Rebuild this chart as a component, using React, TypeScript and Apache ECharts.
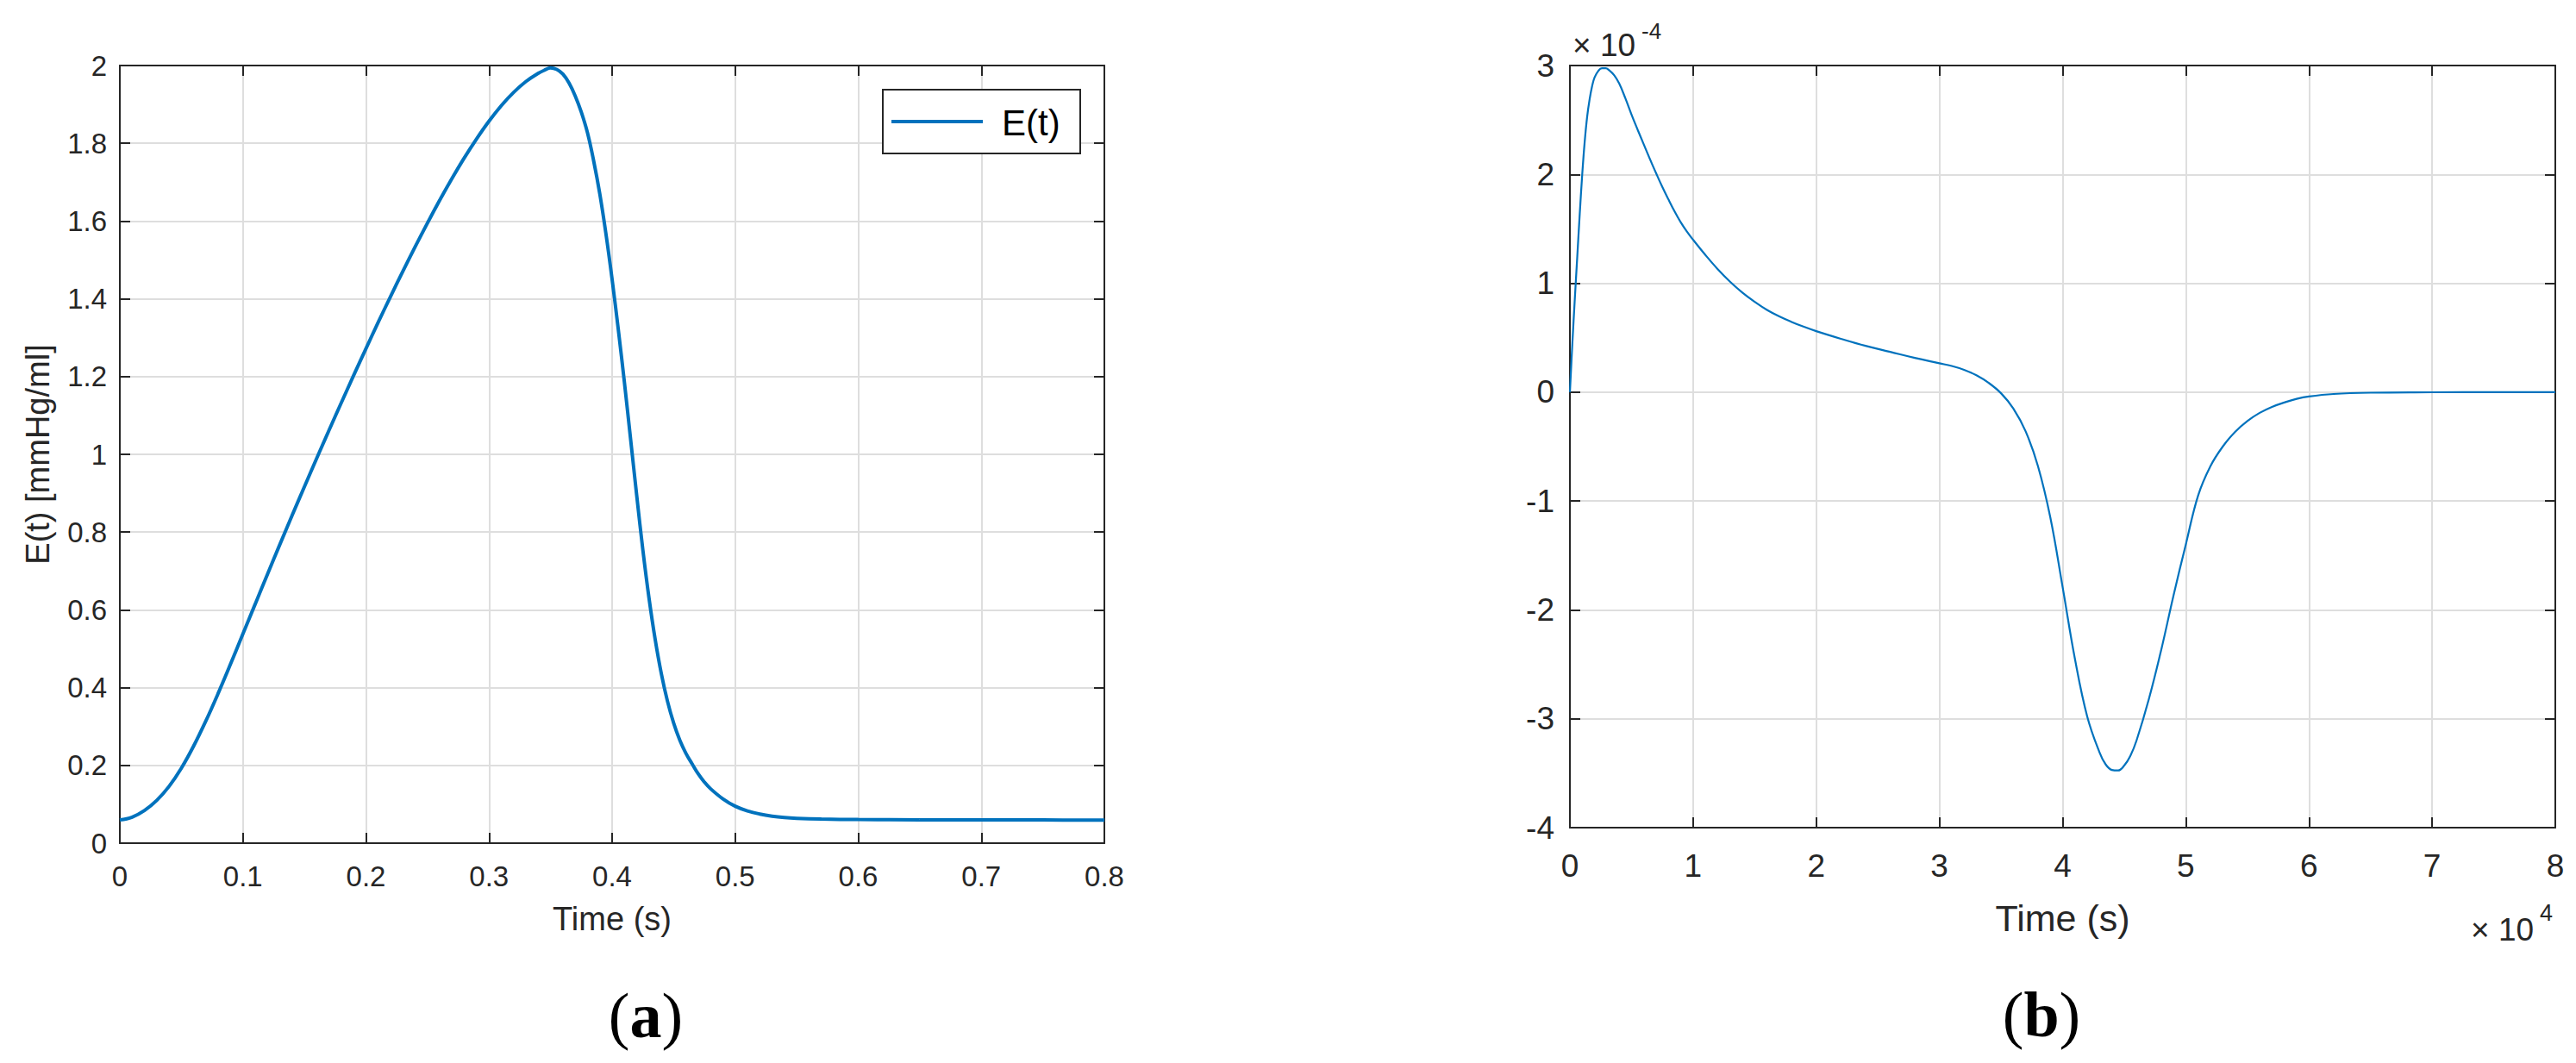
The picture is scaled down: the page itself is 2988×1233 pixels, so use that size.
import React, { useEffect, useRef } from 'react';
import * as echarts from 'echarts';

// (a) Elastance E(t) [mmHg/ml] against time (s)
const timeA = [0, 0.01, 0.02, 0.03, 0.04, 0.05, 0.06, 0.07, 0.08, 0.09, 0.1, 0.11, 0.12, 0.13, 0.14, 0.15, 0.16, 0.17, 0.18, 0.19, 0.2, 0.21, 0.22, 0.23, 0.24, 0.25, 0.26, 0.27, 0.28, 0.29, 0.3, 0.31, 0.32, 0.33, 0.34,
  0.345, 0.35, 0.355, 0.36, 0.365, 0.37, 0.375, 0.38, 0.385, 0.39, 0.395, 0.4, 0.405, 0.41, 0.415, 0.42, 0.425, 0.43, 0.435, 0.44, 0.445, 0.45, 0.455, 0.46, 0.465, 0.47, 0.475, 0.48,
  0.49, 0.5, 0.51, 0.52, 0.53, 0.54, 0.55, 0.57, 0.6, 0.65, 0.7, 0.75, 0.8];
const elastance = [0.06, 0.067, 0.084, 0.11, 0.146, 0.193, 0.25, 0.315, 0.386, 0.461, 0.538, 0.615, 0.692, 0.768, 0.843, 0.917, 0.99, 1.062, 1.133, 1.203, 1.272, 1.34, 1.406, 1.471, 1.534, 1.595, 1.654, 1.71, 1.763, 1.812, 1.857, 1.897, 1.931, 1.959, 1.98,
  1.988, 1.994, 1.99, 1.978, 1.955, 1.922, 1.88, 1.827, 1.755, 1.67, 1.567, 1.45, 1.322, 1.185, 1.04, 0.894, 0.754, 0.63, 0.524, 0.436, 0.365, 0.309, 0.265, 0.231, 0.204, 0.178, 0.157, 0.14,
  0.114, 0.095, 0.083, 0.075, 0.0695, 0.066, 0.064, 0.062, 0.0607, 0.0601, 0.0598, 0.0596, 0.0595];

// (b) time in units of 10^4 s, response in units of 10^-4
const timeB = [0, 0.02, 0.04, 0.06, 0.08, 0.1, 0.12, 0.14, 0.16, 0.18, 0.2, 0.23, 0.26, 0.29, 0.32, 0.36, 0.4, 0.45, 0.5, 0.55, 0.6, 0.65, 0.7, 0.75, 0.8, 0.85, 0.9, 0.95, 1.0, 1.1, 1.2, 1.3, 1.4, 1.5, 1.6, 1.7, 1.8, 1.9, 2.0, 2.2, 2.4, 2.6, 2.8, 3.0, 3.1, 3.2, 3.3, 3.4, 3.5, 3.6, 3.7, 3.8, 3.9, 4.0, 4.1, 4.2, 4.3, 4.35, 4.4, 4.45, 4.5, 4.55, 4.6, 4.7, 4.8, 4.9, 5.0, 5.1, 5.2, 5.3, 5.4, 5.5, 5.6, 5.7, 5.8, 5.9, 6.0, 6.2, 6.5, 7.0, 7.5, 8.0];
const valueB = [0, 0.45, 0.86, 1.25, 1.64, 2.0, 2.3, 2.53, 2.69, 2.81, 2.89, 2.95, 2.975, 2.975, 2.955, 2.91, 2.835, 2.7, 2.55, 2.41, 2.275, 2.14, 2.01, 1.885, 1.77, 1.66, 1.56, 1.475, 1.4, 1.26, 1.13, 1.015, 0.915, 0.83, 0.755, 0.695, 0.645, 0.6, 0.56, 0.49, 0.425, 0.37, 0.315, 0.265, 0.24, 0.205, 0.155, 0.085, -0.01, -0.15, -0.36, -0.68, -1.15, -1.79, -2.45, -2.98, -3.31, -3.42, -3.47, -3.475, -3.43, -3.34, -3.2, -2.82, -2.37, -1.87, -1.4, -0.95, -0.68, -0.5, -0.365, -0.265, -0.19, -0.135, -0.095, -0.062, -0.04, -0.017, -0.005, -0.001, 0, 0];

const seriesNameA = 'E(t)';
const xTitle = 'Time (s)';
const yTitleA = 'E(t) [mmHg/ml]';

const FONT = '"Liberation Sans", Arial, Helvetica, sans-serif';
const SERIF = '"Liberation Serif", "Times New Roman", serif';
const INK = '#262626';
const GRID = '#dedede';
const BLUE = '#0072BD';

function boxAxes(gridIndex: number, min: number, max: number, interval: number, kind: 'x' | 'y', fontSize: number, margin: number, name?: string, nameGap?: number, nameSize?: number) {
  const common = {
    gridIndex,
    type: 'value',
    min,
    max,
    interval,
    axisLine: { show: true, onZero: false, lineStyle: { color: INK, width: 2 } },
    axisTick: { show: true, inside: true, length: 12, lineStyle: { color: INK, width: 2 } },
  };
  const main: any = {
    ...common,
    position: kind === 'x' ? 'bottom' : 'left',
    axisLabel: { show: true, color: INK, fontSize, fontFamily: FONT, margin },
    splitLine: { show: true, lineStyle: { color: GRID, width: 2 } },
  };
  if (name) {
    main.name = name;
    main.nameLocation = 'middle';
    main.nameGap = nameGap;
    main.nameTextStyle = { color: INK, fontSize: nameSize, fontFamily: FONT };
    if (kind === 'y') main.nameRotate = 90;
  }
  const opposite: any = {
    ...common,
    position: kind === 'x' ? 'top' : 'right',
    axisLabel: { show: false },
    splitLine: { show: false },
  };
  return [main, opposite];
}

export default function App() {
  const ref = useRef<HTMLDivElement>(null);
  useEffect(() => {
    if (!ref.current) return;
    const chart = echarts.init(ref.current, null, { renderer: 'svg' });
    const xA = boxAxes(0, 0, 0.8, 0.1, 'x', 33, 22, xTitle, 69, 38);
    const yA = boxAxes(0, 0, 2, 0.2, 'y', 33, 15, yTitleA, 76, 38);
    const xB = boxAxes(1, 0, 8, 1, 'x', 37, 26, xTitle, 83, 43);
    const yB = boxAxes(1, -4, 3, 1, 'y', 37, 18);
    const option: any = {
      animation: false,
      backgroundColor: '#ffffff',
      grid: [
        { left: 139, top: 76, width: 1142, height: 902, outerBoundsMode: 'none', containLabel: false },
        { left: 1821, top: 76, width: 1143, height: 884, outerBoundsMode: 'none', containLabel: false },
      ],
      xAxis: [...xA, ...xB],
      yAxis: [...yA, ...yB],
      series: [
        {
          name: seriesNameA,
          type: 'line',
          xAxisIndex: 0,
          yAxisIndex: 0,
          data: timeA.map((t, i) => [t, elastance[i]]),
          showSymbol: false,
          smooth: 0.4,
          lineStyle: { color: BLUE, width: 4 },
          z: 5,
        },
        {
          name: 'b',
          type: 'line',
          xAxisIndex: 2,
          yAxisIndex: 2,
          data: timeB.map((t, i) => [t, valueB[i]]),
          showSymbol: false,
          smooth: 0.4,
          lineStyle: { color: BLUE, width: 2.2 },
          z: 5,
        },
      ],
      graphic: [
        // legend of (a)
        { type: 'rect', shape: { x: 1024, y: 104, width: 229, height: 74 }, style: { fill: '#ffffff', stroke: INK, lineWidth: 2 }, z: 10 },
        { type: 'line', shape: { x1: 1034, y1: 141, x2: 1140, y2: 141 }, style: { stroke: BLUE, lineWidth: 4 }, z: 11 },
        { type: 'text', x: 1162, y: 142, style: { text: seriesNameA, fontSize: 42, fontFamily: FONT, fill: '#000000', align: 'left', verticalAlign: 'middle' }, z: 11 },
        // exponent of (b) y axis
        { type: 'text', x: 1824, y: 52, style: { text: '× 10', fontSize: 37, fontFamily: FONT, fill: INK, align: 'left', verticalAlign: 'middle' }, z: 11 },
        { type: 'text', x: 1904, y: 36, style: { text: '-4', fontSize: 26, fontFamily: FONT, fill: INK, align: 'left', verticalAlign: 'middle' }, z: 11 },
        // exponent of (b) x axis
        { type: 'text', x: 2866, y: 1078, style: { text: '× 10', fontSize: 37, fontFamily: FONT, fill: INK, align: 'left', verticalAlign: 'middle' }, z: 11 },
        { type: 'text', x: 2946, y: 1059, style: { text: '4', fontSize: 27, fontFamily: FONT, fill: INK, align: 'left', verticalAlign: 'middle' }, z: 11 },
        // panel captions
        {
          type: 'text', x: 749, y: 1178,
          style: {
            text: '{p|(}{b|a}{p|)}', align: 'center', verticalAlign: 'middle', fill: '#000000',
            rich: { p: { fontSize: 74, fontFamily: SERIF, fill: '#000000' }, b: { fontSize: 74, fontFamily: SERIF, fontWeight: 'bold', fill: '#000000' } },
          },
        },
        {
          type: 'text', x: 2368, y: 1177,
          style: {
            text: '{p|(}{b|b}{p|)}', align: 'center', verticalAlign: 'middle', fill: '#000000',
            rich: { p: { fontSize: 74, fontFamily: SERIF, fill: '#000000' }, b: { fontSize: 74, fontFamily: SERIF, fontWeight: 'bold', fill: '#000000' } },
          },
        },
      ],
    };
    chart.setOption(option);
    return () => chart.dispose();
  }, []);
  return (
    <div
      ref={ref}
      style={{ position: 'fixed', left: 0, top: 0, width: '2988px', height: '1233px', background: '#ffffff' }}
    />
  );
}
